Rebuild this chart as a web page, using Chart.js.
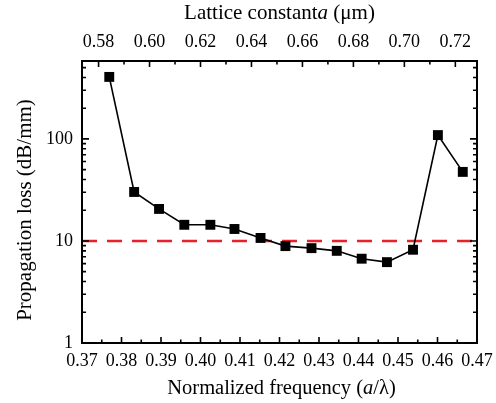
<!DOCTYPE html>
<html>
<head>
    <meta charset="UTF-8">
    <script src="https://cdn.jsdelivr.net/npm/chart.js@4.4.1/dist/chart.umd.min.js"></script>
    <style>
        body { margin: 0; background: #fff; }
        #wrap { width: 496px; height: 403px; }
    </style>
</head>
<body>
<div id="wrap"><canvas id="lossChart" width="496" height="403"></canvas></div>
<script>
// normalized frequency a/lambda of each measured point
const freq = [0.3769, 0.3832, 0.3895, 0.3959, 0.4025, 0.4086, 0.4152, 0.4215,
              0.4281, 0.4345, 0.4408, 0.4472, 0.4538, 0.4601, 0.4664];
// propagation loss in dB/mm
const loss = [405, 30.2, 20.6, 14.4, 14.4, 13.1, 10.7, 8.9,
              8.5, 8.0, 6.7, 6.2, 8.2, 109, 47.5];
const threshold = 10;

const freqTicks = [0.37, 0.38, 0.39, 0.40, 0.41, 0.42, 0.43, 0.44, 0.45, 0.46, 0.47];
const freqMinor = [0.375, 0.385, 0.395, 0.405, 0.415, 0.425, 0.435, 0.445, 0.455, 0.465];
const latticeTicks = [0.58, 0.60, 0.62, 0.64, 0.66, 0.68, 0.70, 0.72];
const latticeMinor = [0.59, 0.61, 0.63, 0.65, 0.67, 0.69, 0.71];
const lossTicks = [1, 10, 100];
const lossMinor = [2, 3, 4, 5, 6, 7, 8, 9, 20, 30, 40, 50, 60, 70, 80, 90, 200, 300, 400, 500];

const wavelength = 1.55; // um, a = f * lambda
const fMin = 0.37, fMax = 0.47;

const FONT = '"Liberation Serif", "Times New Roman", serif';

function setTicks(list) {
    return function (scale) { scale.ticks = list.map(v => ({ value: v })); };
}

// inward ticks, frame and axis titles
const framePlugin = {
    id: 'frame',
    afterDraw(chart) {
        const ctx = chart.ctx;
        const a = chart.chartArea;
        const sx = chart.scales.x, st = chart.scales.xTop, sy = chart.scales.y;
        ctx.save();
        ctx.strokeStyle = '#000';
        ctx.lineWidth = 1.6;
        function vt(px, len) {
            ctx.beginPath();
            ctx.moveTo(px, a.bottom); ctx.lineTo(px, a.bottom - len);
            ctx.stroke();
        }
        function tt(px, len) {
            ctx.beginPath();
            ctx.moveTo(px, a.top); ctx.lineTo(px, a.top + len);
            ctx.stroke();
        }
        function ht(py, len) {
            ctx.beginPath();
            ctx.moveTo(a.left, py); ctx.lineTo(a.left + len, py);
            ctx.moveTo(a.right, py); ctx.lineTo(a.right - len, py);
            ctx.stroke();
        }
        freqTicks.forEach(v => vt(sx.getPixelForValue(v), 6));
        freqMinor.forEach(v => vt(sx.getPixelForValue(v), 3.5));
        latticeTicks.forEach(v => tt(st.getPixelForValue(v), 6));
        latticeMinor.forEach(v => tt(st.getPixelForValue(v), 3.5));
        lossTicks.forEach(v => ht(sy.getPixelForValue(v), 7));
        lossMinor.forEach(v => ht(sy.getPixelForValue(v), 4));

        ctx.lineWidth = 2;
        ctx.strokeRect(a.left, a.top, a.right - a.left, a.bottom - a.top);

        function mixed(parts, x, y, size) {
            let w = 0;
            parts.forEach(p => {
                ctx.font = (p[1] ? 'italic ' : '') + size + 'px ' + FONT;
                w += ctx.measureText(p[0]).width;
            });
            let cx = x - w / 2;
            parts.forEach(p => {
                ctx.font = (p[1] ? 'italic ' : '') + size + 'px ' + FONT;
                ctx.fillText(p[0], cx, y);
                cx += ctx.measureText(p[0]).width;
            });
        }
        ctx.fillStyle = '#000';
        ctx.textBaseline = 'middle';
        ctx.textAlign = 'left';
        const midX = (a.left + a.right) / 2;
        mixed([['Normalized frequency (', false], ['a', true], ['/\u03bb)', false]], midX + 2, a.bottom + 46, 20.5);
        mixed([['Lattice constant', false], ['a', true], [' (\u03bcm)', false]], midX, a.top - 48, 21);
        ctx.translate(a.left - 57, (a.top + a.bottom) / 2 + 8);
        ctx.rotate(-Math.PI / 2);
        mixed([['Propagation loss (dB/mm)', false]], 0, 0, 21);
        ctx.restore();
    }
};

function noOverflow(s) {
    s.paddingLeft = 0; s.paddingRight = 0;
    s.paddingTop = 0; s.paddingBottom = 0;
}

new Chart(document.getElementById('lossChart'), {
    type: 'line',
    data: {
        datasets: [
            {
                label: 'Loss',
                data: freq.map((f, i) => ({ x: f, y: loss[i] })),
                borderColor: '#000',
                backgroundColor: '#000',
                borderWidth: 1.6,
                pointStyle: 'rect',
                pointRadius: 7,
                pointHoverRadius: 7,
                pointBorderWidth: 0,
                order: 1
            },
            {
                label: 'Threshold',
                data: [{ x: fMin, y: threshold }, { x: fMax, y: threshold }],
                borderColor: '#e8202a',
                borderWidth: 2.5,
                borderDash: [15, 10],
                pointRadius: 0,
                order: 2
            }
        ]
    },
    options: {
        responsive: false,
        animation: false,
        layout: { padding: { left: 0, right: 19, top: 0, bottom: 0 } },
        plugins: { legend: { display: false }, tooltip: { enabled: false } },
        scales: {
            x: {
                type: 'linear',
                position: 'bottom',
                min: fMin, max: fMax,
                afterBuildTicks: setTicks(freqTicks),
                afterFit: s => { s.height = 60; noOverflow(s); },
                grid: { display: false, drawTicks: false },
                border: { display: false },
                ticks: {
                    padding: 7,
                    color: '#000',
                    font: { family: FONT, size: 18 },
                    callback: v => v.toFixed(2)
                }
            },
            xTop: {
                type: 'linear',
                position: 'top',
                min: fMin * wavelength, max: fMax * wavelength,
                afterBuildTicks: setTicks(latticeTicks),
                afterFit: s => { s.height = 61; noOverflow(s); },
                grid: { display: false, drawTicks: false },
                border: { display: false },
                ticks: {
                    padding: 8,
                    color: '#000',
                    font: { family: FONT, size: 18 },
                    callback: v => v.toFixed(2)
                }
            },
            y: {
                type: 'logarithmic',
                position: 'left',
                min: 1, max: 580,
                afterBuildTicks: setTicks(lossTicks),
                afterFit: s => { s.width = 82; noOverflow(s); },
                grid: { display: false, drawTicks: false },
                border: { display: false },
                ticks: {
                    padding: 9,
                    color: '#000',
                    font: { family: FONT, size: 18 },
                    callback: v => String(v)
                }
            }
        }
    },
    plugins: [framePlugin]
});
</script>
</body>
</html>
